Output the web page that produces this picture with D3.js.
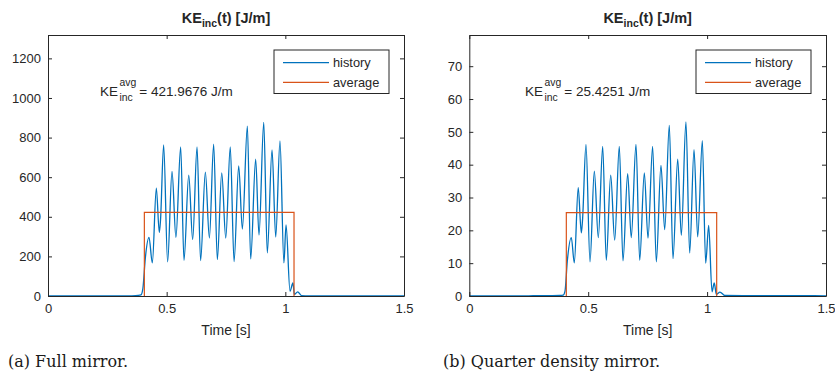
<!DOCTYPE html>
<html>
<head>
<meta charset="utf-8">
<script src="https://cdn.jsdelivr.net/npm/d3@7"></script>
<style>
  html, body { margin: 0; padding: 0; background: #fff; }
  svg { display: block; }
  text { font-family: "Liberation Sans", Arial, Helvetica, sans-serif; fill: #262626; }
</style>
</head>
<body>
<svg id="chart" width="835" height="379"></svg>
<script>
// ---------- Data ----------
const xTicks = [0, 0.5, 1, 1.5];
const xTickLabels = ["0", "0.5", "1", "1.5"];
const yTicksA = [0, 200, 400, 600, 800, 1000, 1200];
const yTicksB = [0, 10, 20, 30, 40, 50, 60, 70];
const seriesNames = ["history", "average"];

// Panel (a): full mirror — time [s] and KE_inc [J/m] (peaks / troughs)
const timeA = [0, 0.30, 0.35, 0.38, 0.392, 0.400, 0.410, 0.4256, 0.4396, 0.4564, 0.469, 0.474, 0.4873, 0.504, 0.5225, 0.539, 0.559, 0.573, 0.593, 0.6096, 0.628, 0.643, 0.663, 0.680, 0.698, 0.7135, 0.732, 0.749, 0.768, 0.784, 0.8035, 0.819, 0.840, 0.854, 0.875, 0.889, 0.909, 0.924, 0.944, 0.9595, 0.9775, 0.994, 1.003, 1.0197, 1.032, 1.038, 1.052, 1.068, 1.10, 1.5];
const keA   = [0, 0, 1, 3, 6, 40, 190, 296, 167, 545, 321, 382, 763, 172, 629, 296, 753, 180, 610, 285, 753, 179, 626, 293, 767, 184, 622, 293, 753, 174, 657, 338, 858, 187, 691, 308, 877, 218, 738, 298, 783, 167, 359, 24, 66, 8, 21, 2, 0, 0];
const avgA = 421.9676;
const avgSpanA = [0.406, 1.0366];

// Panel (b): quarter density mirror
const timeB = [0, 0.20, 0.25, 0.30, 0.35, 0.38, 0.395, 0.4025, 0.412, 0.429, 0.4416, 0.458, 0.471, 0.476, 0.4907, 0.5076, 0.5257, 0.5425, 0.561, 0.576, 0.5946, 0.6114, 0.6308, 0.6463, 0.666, 0.681, 0.701, 0.7166, 0.736, 0.7515, 0.771, 0.7864, 0.806, 0.8217, 0.841, 0.8566, 0.8764, 0.8916, 0.911, 0.9268, 0.945, 0.9605, 0.980, 0.994, 1.0067, 1.0206, 1.030, 1.039, 1.054, 1.075, 1.15, 1.25, 1.35, 1.45, 1.5];
const keB   = [0, 0, 0.05, 0.12, 0.1, 0.15, 0.3, 1.5, 10.5, 17.8, 10.1, 33.0, 19.2, 23.0, 46.2, 10.4, 38.0, 17.8, 45.6, 10.9, 36.8, 17.0, 45.6, 10.7, 37.3, 17.8, 46.2, 10.9, 37.5, 17.6, 45.6, 10.4, 39.8, 20.2, 52.0, 11.4, 41.7, 18.5, 53.0, 13.1, 44.6, 18.0, 47.3, 10.0, 21.5, 1.3, 4.0, 0.5, 1.2, 0.15, 0.1, 0.12, 0.08, 0.1, 0.05];
const avgB = 25.4251;
const avgSpanB = [0.408, 1.0403];

const avgLabels = ["421.9676", "25.4251"];
const captions = ["(a) Full mirror.", "(b) Quarter density mirror."];

// ---------- Layout ----------
const colors = { history: "#0072BD", average: "#D95319", axis: "#262626" };
const panels = [
  { left: 48,    right: 404, top: 35, bottom: 296, yMax: 1318, yTicks: yTicksA, time: timeA, ke: keA, avg: avgA, span: avgSpanA, avgLabel: avgLabels[0], caption: captions[0], capX: 8,   annX: 100 },
  { left: 469.3, right: 826, top: 35, bottom: 296, yMax: 79.5, yTicks: yTicksB, time: timeB, ke: keB, avg: avgB, span: avgSpanB, avgLabel: avgLabels[1], caption: captions[1], capX: 443, annX: 525 }
];

const svg = d3.select("#chart");

panels.forEach((p, i) => {
  const x = d3.scaleLinear().domain([0, 1.5]).range([p.left, p.right]);
  const y = d3.scaleLinear().domain([0, p.yMax]).range([p.bottom, p.top]);
  const g = svg.append("g");
  const clipId = "clip" + i;
  g.append("clipPath").attr("id", clipId).append("rect")
    .attr("x", p.left).attr("y", p.top - 1).attr("width", p.right - p.left).attr("height", p.bottom - p.top + 2);

  // history line
  const line = d3.line().x((d, k) => x(p.time[k])).y(d => y(d)).curve(d3.curveMonotoneX);
  g.append("path").datum(p.ke)
    .attr("clip-path", `url(#${clipId})`)
    .attr("d", line)
    .attr("fill", "none").attr("stroke", colors.history).attr("stroke-width", 1.3)
    .attr("stroke-linejoin", "round");

  // average step
  const avgPts = [[p.span[0], 0], [p.span[0], p.avg], [p.span[1], p.avg], [p.span[1], 0]];
  g.append("path").datum(avgPts)
    .attr("clip-path", `url(#${clipId})`)
    .attr("d", d3.line().x(d => x(d[0])).y(d => y(d[1])))
    .attr("fill", "none").attr("stroke", colors.average).attr("stroke-width", 1.2);

  // axes (box with inward ticks on all sides)
  const tickLen = 4;
  const axBottom = d3.axisBottom(x).tickValues(xTicks).tickFormat((d, k) => xTickLabels[k]).tickSizeInner(-tickLen).tickSizeOuter(0).tickPadding(8);
  const axTop = d3.axisTop(x).tickValues(xTicks).tickFormat("").tickSizeInner(-tickLen).tickSizeOuter(0);
  const axLeft = d3.axisLeft(y).tickValues(p.yTicks).tickFormat(d3.format("d")).tickSizeInner(-tickLen).tickSizeOuter(0).tickPadding(7);
  const axRight = d3.axisRight(y).tickValues(p.yTicks).tickFormat("").tickSizeInner(-tickLen).tickSizeOuter(0);

  const styleAxis = sel => {
    sel.selectAll("path.domain").attr("stroke", colors.axis).attr("stroke-width", 1);
    sel.selectAll(".tick line").attr("stroke", colors.axis).attr("stroke-width", 1);
    sel.selectAll(".tick text").attr("fill", colors.axis).style("font-size", "13px")
      .style("font-family", '"Liberation Sans", Arial, sans-serif');
  };
  g.append("g").attr("transform", `translate(0,${p.bottom})`).call(axBottom).call(styleAxis);
  g.append("g").attr("transform", `translate(0,${p.top})`).call(axTop).call(styleAxis);
  g.append("g").attr("transform", `translate(${p.left},0)`).call(axLeft).call(styleAxis);
  g.append("g").attr("transform", `translate(${p.right},0)`).call(axRight).call(styleAxis);

  const cx = (p.left + p.right) / 2;

  // title
  const title = g.append("text").attr("x", cx).attr("y", 22.5).attr("text-anchor", "middle")
    .style("font-size", "14.5px").style("font-weight", "bold");
  title.append("tspan").text("KE");
  title.append("tspan").attr("dy", 4).style("font-size", "10.5px").text("inc");
  title.append("tspan").attr("dy", -4).text("(t) [J/m]");

  // x label
  g.append("text").attr("x", cx).attr("y", 335).attr("text-anchor", "middle")
    .style("font-size", "14px").text("Time [s]");

  // annotation KE_inc^avg = value J/m
  const baseY = 96;
  const ke = g.append("text").attr("x", p.annX).attr("y", baseY).style("font-size", "13.5px").text("KE");
  const keW = ke.node().getComputedTextLength();
  const sx = p.annX + keW + 1.5;
  const sup = g.append("text").attr("x", sx).attr("y", baseY - 10).style("font-size", "10.4px").text("avg");
  const sub = g.append("text").attr("x", sx).attr("y", baseY + 4.7).style("font-size", "10.4px").text("inc");
  const sw = Math.max(sup.node().getComputedTextLength(), sub.node().getComputedTextLength());
  g.append("text").attr("x", sx + sw + 3).attr("y", baseY).style("font-size", "13.5px")
    .text("= " + p.avgLabel + " J/m");

  // legend
  const lw = 115, lh = 43.5;
  const lx = p.right - 15 - lw, ly = 50;
  g.append("rect").attr("x", lx).attr("y", ly).attr("width", lw).attr("height", lh)
    .attr("fill", "#fff").attr("stroke", colors.axis).attr("stroke-width", 1);
  seriesNames.forEach((name, k) => {
    const ry = ly + 12.7 + k * 19.6;
    g.append("line").attr("x1", lx + 9).attr("x2", lx + 55).attr("y1", ry).attr("y2", ry)
      .attr("stroke", colors[name]).attr("stroke-width", 1.2);
    g.append("text").attr("x", lx + 59).attr("y", ry + 4.5).style("font-size", "12.8px").text(name);
  });

  // caption
  g.append("text").attr("x", p.capX).attr("y", 367)
    .style("font-family", '"DejaVu Serif", serif').style("font-size", "16px").style("fill", "#1a1a1a")
    .text(p.caption);
});
</script>
</body>
</html>
